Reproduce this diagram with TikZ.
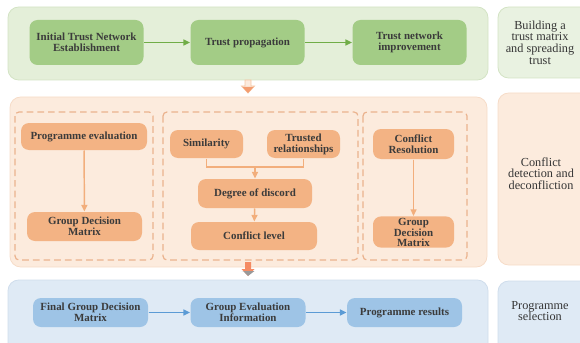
\documentclass[tikz,border=0pt]{standalone}
\usepackage{fontspec}
\setmainfont{Liberation Serif}
\usetikzlibrary{arrows.meta}

\definecolor{grnpanel}{HTML}{E4EFD9}
\definecolor{grnline}{HTML}{D3E3C4}
\definecolor{grnbox}{HTML}{A3CC86}
\definecolor{grnarrow}{HTML}{70AD47}
\definecolor{orgpanel}{HTML}{FCEBDD}
\definecolor{orgline}{HTML}{F6DCC8}
\definecolor{orgbox}{HTML}{F3B384}
\definecolor{orgdash}{HTML}{EBB38E}
\definecolor{orgarrow}{HTML}{F2AE7C}
\definecolor{bluepanel}{HTML}{DFEAF5}
\definecolor{blueline}{HTML}{CFDDEC}
\definecolor{bluebox}{HTML}{9EC4E6}
\definecolor{bluearrow}{HTML}{5B9BD5}
\definecolor{txtgray}{HTML}{3B3B3B}

\tikzset{every picture/.style={line width=0.75pt}}
\tikzset{
  panel/.style={rounded corners=8pt, line width=0.6pt},
  sidebox/.style={rounded corners=8pt, line width=0.6pt},
  sidetext/.style={align=center, text=txtgray!90!black, font=\fontsize{9.2}{8.8}\selectfont},
  procbox/.style={rounded corners=6pt, align=center, text=txtgray, inner sep=1pt,
    font=\fontsize{8.2}{8.4}\selectfont\bfseries},
  grnbx/.style={procbox, fill=grnbox, minimum width=85.5pt, minimum height=33.75pt},
  bluebx/.style={procbox, fill=bluebox, minimum width=86.25pt, minimum height=21.75pt},
  orgbx/.style={procbox, fill=orgbox},
  dashbox/.style={draw=orgdash, dash pattern={on 5pt off 3pt}, line width=0.9pt, rounded corners=3pt},
  flow/.style={line width=1.1pt, -{Triangle[length=5pt,width=4.5pt]}}
}

\begin{document}
\begin{tikzpicture}[x=0.75pt,y=0.75pt,yscale=-1,xscale=1]
  \clip (0,0) rectangle (580,342);
  \useasboundingbox (0,0) rectangle (580,342);

  %Shape: Rounded Rect [id:panel_trust]
  \draw [panel, draw=grnline, fill=grnpanel] (8,7) rectangle (488,80);
  %Shape: Rounded Rect [id:panel_conflict]
  \draw [panel, draw=orgline, fill=orgpanel] (10,97) rectangle (487,267);
  %Shape: Rounded Rect [id:panel_select]
  \draw [panel, draw=blueline, fill=bluepanel] (8,280) rectangle (488,356);

  %Shape: Rounded Rect [id:side_trust]
  \draw [sidebox, draw=grnline, fill=grnpanel!80!white] (498,7) rectangle (600,78);
  %Shape: Rounded Rect [id:side_conflict]
  \draw [sidebox, draw=orgline, fill=orgpanel] (498,93) rectangle (600,265);
  %Shape: Rounded Rect [id:side_select]
  \draw [sidebox, draw=blueline, fill=bluepanel] (498,281) rectangle (600,356);

  %Shape: Dashed Rect [id:dash_eval]
  \draw [dashbox] (15,112) rectangle (153,260);
  %Shape: Dashed Rect [id:dash_discord]
  \draw [dashbox] (163,112) rectangle (358,260);
  %Shape: Dashed Rect [id:dash_resolve]
  \draw [dashbox] (363,112) rectangle (467,260);

  % Trust network nodes
  \node [grnbx] (initnet) at (86.5,42.5) {Initial Trust Network\\Establishment};
  \node [grnbx] (trustprop) at (247.5,42.5) {Trust propagation};
  \node [grnbx] (netimprove) at (409.5,42.5) {Trust network\\improvement};
  \draw [flow, draw=grnarrow, fill=grnarrow] (initnet) -- (trustprop);
  \draw [flow, draw=grnarrow, fill=grnarrow] (trustprop) -- (netimprove);

  % Conflict nodes
  \node [orgbx, minimum width=94.5pt, minimum height=20.25pt] (progeval) at (84,136.5) {Programme evaluation};
  \node [orgbx, minimum width=86.25pt, minimum height=21.75pt] (gdmleft) at (84.5,226.5) {Group Decision\\Matrix};
  \node [orgbx, minimum width=54.75pt, minimum height=21pt] (similar) at (206.5,144) {Similarity};
  \node [orgbx, minimum width=54.75pt, minimum height=21pt] (trustrel) at (303.5,144) {Trusted\\relationships};
  \node [orgbx, minimum width=85.5pt, minimum height=21.75pt] (discord) at (255,193.5) {Degree of discord};
  \node [orgbx, minimum width=94.5pt, minimum height=21pt] (conflvl) at (254,236) {Conflict level};
  \node [orgbx, minimum width=60.75pt, minimum height=22.5pt] (resolve) at (413.5,144) {Conflict\\Resolution};
  \node [orgbx, minimum width=60.75pt, minimum height=22.5pt, font=\fontsize{8.2}{7.4}\selectfont\bfseries] (gdmright) at (413.5,232) {Group\\Decision\\Matrix};
  \coordinate (joinpt) at (255,167);

  \draw [flow, draw=orgarrow, fill=orgarrow] (progeval) -- (gdmleft);
  \draw [line width=1.1pt, draw=orgarrow] (similar.south) |- (joinpt) -| (trustrel.south);
  \draw [flow, draw=orgarrow, fill=orgarrow] (joinpt) -- (discord);
  \draw [flow, draw=orgarrow, fill=orgarrow] (discord) -- (conflvl);
  \draw [flow, draw=orgarrow, fill=orgarrow] (resolve) -- (gdmright);

  % Selection nodes
  \node [bluebx] (finalgdm) at (90.5,312.5) {Final Group Decision\\Matrix};
  \node [bluebx] (groupeval) at (248,312.5) {Group Evaluation\\Information};
  \node [bluebx] (progres) at (404.5,312.5) {Programme results};
  \draw [flow, draw=bluearrow, fill=bluearrow] (finalgdm) -- (groupeval);
  \draw [flow, draw=bluearrow, fill=bluearrow] (groupeval) -- (progres);

  %Shape: Down Arrow [id:step_one]
  \draw [draw=orgarrow!70!white, fill=orgpanel, line width=0.6pt] (245,80) -- (251,80) -- (251,86) -- (254.5,86) -- (248,93) -- (241.5,86) -- (245,86) -- cycle;
  \fill [orgarrow!90!red] (242.5,87) -- (253.5,87) -- (248,93) -- cycle;
  %Shape: Down Arrow [id:step_two]
  \fill [color=orgarrow!80!red] (245,262) -- (251,262) -- (251,269) -- (254.5,269) -- (248,276) -- (241.5,269) -- (245,269) -- cycle;
  \fill [color=gray!80] (241.5,271) -- (254.5,271) -- (248,276) -- (243,271) -- cycle;

  % Text Node
  \node [sidetext] (lbltrust) at (540,42.5) {Building a\\trust matrix\\and spreading\\trust};
  % Text Node
  \node [sidetext] (lblconflict) at (541,173.5) {Conflict\\detection and\\deconfliction};
  % Text Node
  \node [sidetext] (lblselect) at (540,311) {Programme\\selection};

\end{tikzpicture}
\end{document}
